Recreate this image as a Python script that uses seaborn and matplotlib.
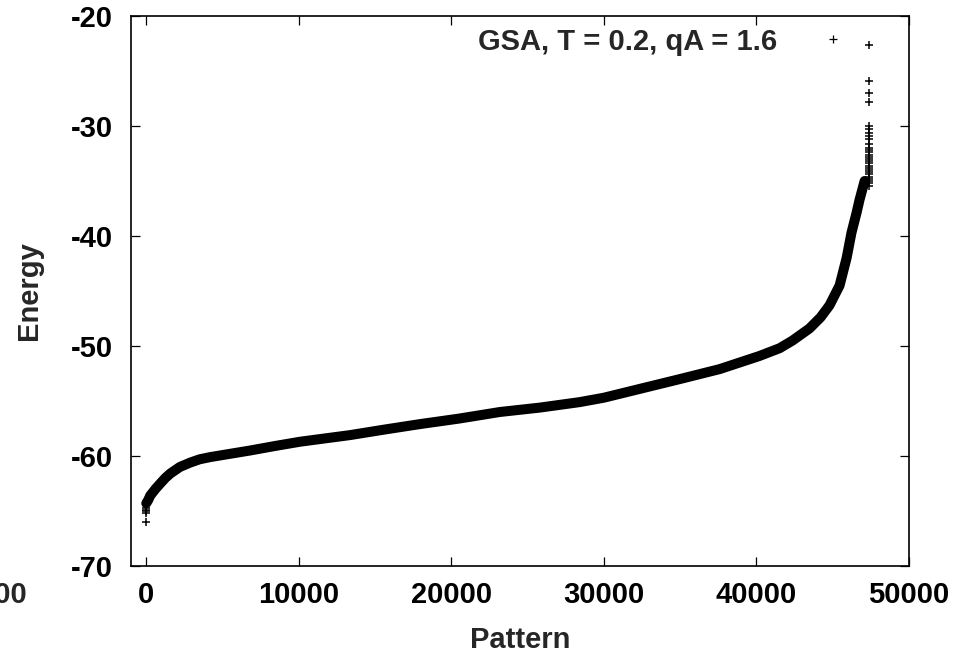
import matplotlib
matplotlib.use('Agg')
import matplotlib.pyplot as plt
from matplotlib.lines import Line2D
import seaborn as sns
import pandas as pd

# sorted energies (band of points)
pattern = [0, 130, 260, 600, 920, 1250, 1570, 2200, 2880, 3500, 4190, 5500,
           6810, 8400, 10090, 13360, 15600, 17940, 20500, 23180, 25800, 28420,
           30000, 32350, 35000, 37590, 40210, 41520, 42370, 43480, 44200,
           44790, 45450, 45910, 46230, 46560, 46760, 47090]
energy = [-64.3, -64.0, -63.6, -63.0, -62.5, -62.0, -61.6, -61.0, -60.6, -60.3,
          -60.1, -59.8, -59.5, -59.1, -58.7, -58.1, -57.6, -57.1, -56.6, -56.0,
          -55.6, -55.1, -54.7, -53.9, -53.0, -52.1, -50.9, -50.2, -49.5, -48.4,
          -47.4, -46.3, -44.5, -42.0, -39.7, -37.9, -36.7, -35.0]

# isolated points at the two ends of the run
tail_pattern = [47370] * 27 + [0, 0, 0, 0, 0]
tail_energy = [-35.5, -35.2, -35.0, -34.8, -34.6, -34.4, -34.2, -34.0, -33.8,
               -33.6, -33.4, -33.2, -33.0, -32.8, -32.6, -32.4, -32.2, -32.0,
               -31.6, -31.2, -30.9, -30.6, -30.3, -30.0, -27.8, -27.0, -25.9,
               -66.0, -65.2, -65.0, -64.9, -64.7]
extra_pattern = [47370]
extra_energy = [-22.6]

legend_label = 'GSA, T = 0.2, qA = 1.6'
x_ticks = [0, 10000, 20000, 30000, 40000, 50000]
y_ticks = [-70, -60, -50, -40, -30, -20]

sns.set_style('ticks')
plt.rcParams['font.family'] = ['Liberation Sans', 'DejaVu Sans']
plt.rcParams['font.weight'] = 'bold'
plt.rcParams['font.size'] = 21
plt.rcParams['axes.unicode_minus'] = False

df = pd.DataFrame({'Pattern': pattern, 'Energy': energy})
tails = pd.DataFrame({'Pattern': tail_pattern + extra_pattern,
                      'Energy': tail_energy + extra_energy})

fig = plt.figure(figsize=(9.68, 6.58), dpi=100)
ax = fig.add_axes([131 / 968, 92 / 658, 778 / 968, 550 / 658])

sns.lineplot(data=df, x='Pattern', y='Energy', color='black', linewidth=7.2,
             solid_capstyle='round', solid_joinstyle='round', ax=ax)
sns.scatterplot(data=tails, x='Pattern', y='Energy', marker='+', color='black',
                s=40, linewidth=1.1, ax=ax)

ax.set_xlim(-1000, 50000)
ax.set_ylim(-70, -20)
ax.set_xticks(x_ticks)
ax.set_yticks(y_ticks)
ax.tick_params(direction='in', length=6.5, width=0.9, top=True, right=True,
               colors='black', labelsize=21)
ax.tick_params(axis='x', pad=11)
ax.tick_params(axis='y', pad=13)
for s in ax.spines.values():
    s.set_linewidth(1.2)
    s.set_color('black')

ax.set_xlabel('Pattern', fontsize=21, fontweight='bold', labelpad=12)
ax.set_ylabel('Energy', fontsize=21, fontweight='bold', labelpad=20)

# gnuplot leaves the -10000 label hanging off the left edge
ax.annotate('-10000', xy=(-10000, 0), xycoords=('data', 'axes fraction'),
            xytext=(-8, -11), textcoords='offset points', ha='center', va='top',
            fontsize=21, fontweight='bold', annotation_clip=False)

handle = Line2D([], [], ls='none', marker='+', color='black', ms=6, mew=0.9)
ax.legend([handle], [legend_label], loc='upper right', bbox_to_anchor=(0.955, 1.0),
          markerfirst=False, frameon=False, handlelength=2, handletextpad=0.93,
          borderaxespad=0, fontsize=21)

fig.savefig('out.png', dpi=100)
